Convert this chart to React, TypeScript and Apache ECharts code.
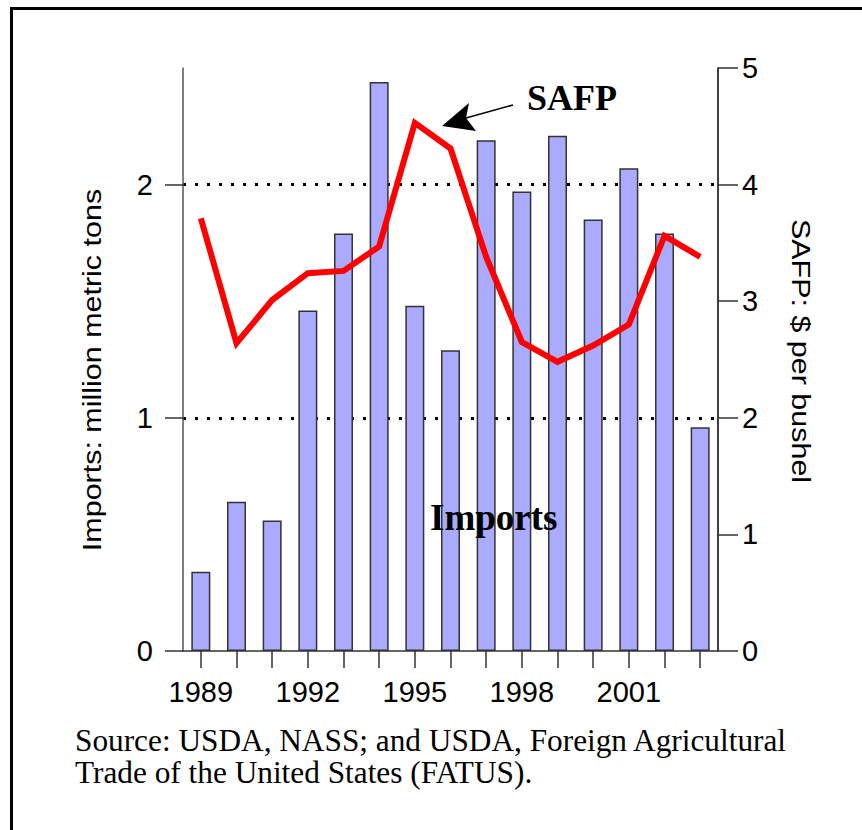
import React, { useEffect, useRef } from "react";
import * as echarts from "echarts";

const years = ["1989","1990","1991","1992","1993","1994","1995","1996","1997","1998","1999","2000","2001","2002","2003"];
const importsVals = [0.34,0.64,0.56,1.46,1.79,2.44,1.48,1.29,2.19,1.97,2.21,1.85,2.07,1.79,0.96];
const safpVals = [3.71,2.64,3.01,3.24,3.26,3.47,4.53,4.31,3.38,2.65,2.48,2.62,2.80,3.56,3.38];
const leftTicks = [0, 1, 2];
const leftTitle = "Imports: million metric tons";
const rightTitle = "SAFP: $ per bushel";
const sourceLines = [
  "Source: USDA, NASS; and USDA, Foreign Agricultural",
  "Trade of the United States (FATUS).",
];

const SANS = "'Liberation Sans', Arial, sans-serif";
const SERIF = "'Liberation Serif', 'Times New Roman', serif";

export default function App() {
  const ref = useRef<HTMLDivElement>(null);
  useEffect(() => {
    if (!ref.current) return;
    const chart = echarts.init(ref.current, undefined, { renderer: "svg" });
    chart.setOption({
      animation: false,
      backgroundColor: "#ffffff",
      grid: { left: 183, right: 144, top: 68, bottom: 179, containLabel: false },
      xAxis: {
        type: "category",
        data: years,
        boundaryGap: true,
        axisLine: { show: true, lineStyle: { color: "#333", width: 1.5 } },
        axisTick: { show: true, alignWithLabel: true, interval: 0, length: 17, lineStyle: { color: "#333", width: 1.5 } },
        axisLabel: { interval: 2, fontSize: 29, color: "#000", fontFamily: SANS, margin: 26 },
      },
      yAxis: [
        {
          type: "value",
          min: 0,
          max: 2.5,
          interval: 1,
          position: "left",
          axisLine: { show: true, lineStyle: { color: "#555", width: 1.5 } },
          axisTick: { show: true, length: 18, customValues: leftTicks, lineStyle: { color: "#333", width: 1.5 } },
          axisLabel: { customValues: leftTicks, fontSize: 29, color: "#000", fontFamily: SANS, margin: 30 },
          splitLine: { show: true, showMinLine: false, showMaxLine: true, lineStyle: { color: "#000", width: 3, type: [3, 9] } },
        },
        {
          type: "value",
          min: 0,
          max: 5,
          interval: 1,
          position: "right",
          axisLine: { show: true, lineStyle: { color: "#000", width: 1.5 } },
          axisTick: { show: true, length: 20, lineStyle: { color: "#333", width: 1.5 } },
          axisLabel: { fontSize: 29, color: "#000", fontFamily: SANS, margin: 24 },
          splitLine: { show: false },
        },
      ],
      series: [
        {
          name: "Imports",
          type: "bar",
          yAxisIndex: 0,
          data: importsVals,
          barWidth: 19,
          itemStyle: { color: "#aaaaff", borderColor: "#333", borderWidth: 1.5 },
          z: 2,
        },
        {
          name: "SAFP",
          type: "line",
          yAxisIndex: 1,
          data: safpVals,
          symbol: "none",
          lineStyle: { color: "#ff0000", width: 6, join: "miter" },
          z: 3,
        },
      ],
      graphic: [
        { type: "line", z: 100, shape: { x1: 11.5, y1: 8.5, x2: 11.5, y2: 830 }, style: { stroke: "#000", lineWidth: 3 } },
        { type: "line", z: 100, shape: { x1: 10, y1: 8.5, x2: 862, y2: 8.5 }, style: { stroke: "#000", lineWidth: 3 } },
        {
          type: "text", z: 100, x: 92, y: 370, rotation: Math.PI / 2, scaleX: 1.27, scaleY: 1.05,
          style: { text: leftTitle, font: `24px ${SANS}`, fill: "#000", textAlign: "center", textVerticalAlign: "middle" },
        },
        {
          type: "text", z: 100, x: 801, y: 351, rotation: -Math.PI / 2, scaleX: 1.27, scaleY: 1.05,
          style: { text: rightTitle, font: `24px ${SANS}`, fill: "#000", textAlign: "center", textVerticalAlign: "middle" },
        },
        {
          type: "text", z: 100, x: 527, y: 98,
          style: { text: "SAFP", font: `bold 36px ${SERIF}`, fill: "#000", textAlign: "left", textVerticalAlign: "middle" },
        },
        {
          type: "text", z: 100, x: 430, y: 517,
          style: { text: "Imports", font: `bold 37px ${SERIF}`, fill: "#000", textAlign: "left", textVerticalAlign: "middle" },
        },
        { type: "line", z: 100, shape: { x1: 513, y1: 105, x2: 466, y2: 118 }, style: { stroke: "#000", lineWidth: 1.5 } },
        {
          type: "polygon", z: 100,
          shape: { points: [[442, 126], [469, 103], [466, 118], [476, 131]] },
          style: { fill: "#000" },
        },
        {
          type: "text", z: 100, x: 75, y: 741, scaleX: 1.01,
          style: { text: sourceLines[0], font: `31px ${SERIF}`, fill: "#000", textAlign: "left", textVerticalAlign: "middle" },
        },
        {
          type: "text", z: 100, x: 75, y: 773, scaleX: 1.01,
          style: { text: sourceLines[1], font: `31px ${SERIF}`, fill: "#000", textAlign: "left", textVerticalAlign: "middle" },
        },
      ],
    });
    return () => chart.dispose();
  }, []);
  return <div ref={ref} style={{ position: "fixed", left: 0, top: 0, width: 862, height: 830 }} />;
}
